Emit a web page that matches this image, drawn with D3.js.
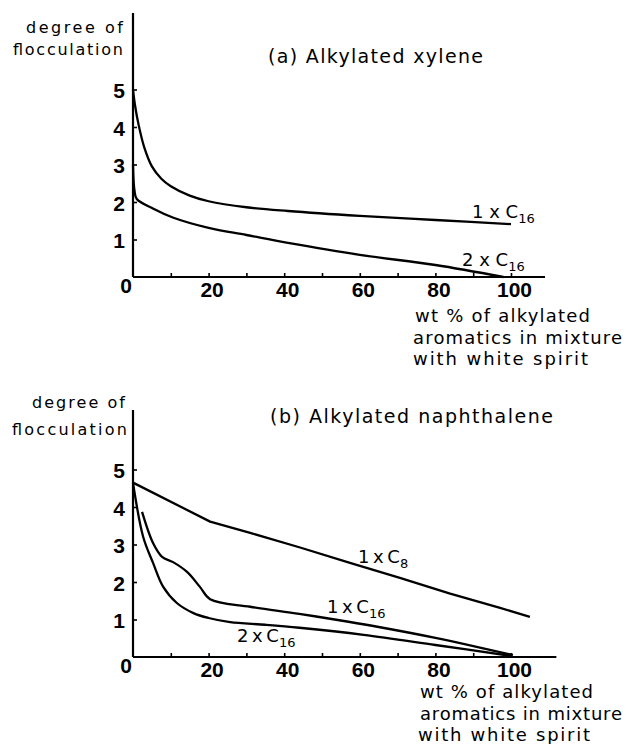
<!DOCTYPE html>
<html><head><meta charset="utf-8">
<script src="https://cdn.jsdelivr.net/npm/d3@7"></script>
<style>body{margin:0;background:#fff} svg{display:block}</style>
</head><body><svg id="c" width="626" height="744"></svg>
<script>
// ---- data ----
const xTickValues = [10,20,30,40,50,60,70,80,90,100];
const xTickLabels = [20,40,60,80,100];
const yTickValues = [1,2,3,4,5];

const titleA = "(a) Alkylated xylene";
const titleB = "(b) Alkylated naphthalene";
const yLabelLines = ["degree of","flocculation"];
const xLabelLines = ["wt % of alkylated","aromatics in mixture","with white spirit"];

const xylene1xC16 = [[0,5.0],[0.5,4.6],[1.5,4.05],[3,3.45],[5,2.95],[7.5,2.62],[10,2.42],[15,2.17],[20,2.02],[30,1.86],[41,1.76],[60,1.63],[80,1.52],[100,1.41]];
const xylene2xC16 = [[0,3.0],[0.4,2.3],[1,2.08],[5.4,1.82],[10.7,1.58],[20,1.31],[30,1.12],[41,0.91],[60,0.59],[80,0.32],[98,0.0]];
const naph1xC8  = [[0,4.65],[20.4,3.61],[31,3.31],[44.2,2.92],[57.4,2.51],[70.6,2.11],[83.9,1.69],[97.1,1.31],[105,1.07]];
const naph1xC16 = [[2.4,3.87],[5.3,3.04],[7.7,2.67],[10.6,2.53],[14.3,2.27],[17.7,1.87],[20.4,1.54],[31,1.34],[44,1.15],[57,0.94],[65,0.8],[80,0.51],[100.5,0.05]];
const naph2xC16 = [[0,4.65],[2.7,3.2],[5.3,2.51],[8,1.87],[11.6,1.44],[16,1.17],[20,1.04],[25.7,0.93],[35,0.86],[44,0.78],[61,0.59],[80,0.32],[100,0.03]];

// ---- drawing ----
const svg = d3.select("#c");
const textFont = "'DejaVu Sans', 'Noto Sans', sans-serif";
const numFont = "'Liberation Sans', Arial, sans-serif";

const x = d3.scaleLinear().domain([0,100]).range([133,511]);

function numStyle(sel){
  sel.style("font-family",numFont).style("font-size","21px").style("font-weight","bold").attr("fill","#000");
}

function panel(cfg){
  const y = d3.scaleLinear().domain([0,5]).range([cfg.y0, cfg.y5]);
  const g = svg.append("g");

  // x axis
  const ax = g.append("g").attr("transform",`translate(0,${cfg.y0})`)
    .call(d3.axisBottom(x).tickValues(xTickValues).tickSizeInner(-4).tickSizeOuter(0)
      .tickFormat(d => xTickLabels.includes(d) ? d3.format("d")(d) : ""));
  ax.select(".domain").remove();
  ax.selectAll(".tick line").attr("stroke","#000").attr("stroke-width",1.6);
  ax.selectAll(".tick text").attr("y",20).attr("dy",0).attr("dx",3).call(numStyle);
  g.append("line").attr("x1",x(0)).attr("x2",x(cfg.xEnd)).attr("y1",cfg.y0).attr("y2",cfg.y0)
    .attr("stroke","#000").attr("stroke-width",2.2);

  // y axis
  const ay = g.append("g").attr("transform",`translate(${x(0)},0)`)
    .call(d3.axisLeft(y).tickValues(yTickValues).tickSizeInner(-4).tickSizeOuter(0).tickPadding(8)
      .tickFormat(d3.format("d")));
  ay.select(".domain").remove();
  ay.selectAll(".tick line").attr("stroke","#000").attr("stroke-width",1.6);
  ay.selectAll(".tick text").attr("dy","0.4em").call(numStyle);
  g.append("line").attr("x1",x(0)).attr("x2",x(0)).attr("y1",cfg.yTop).attr("y2",cfg.y0)
    .attr("stroke","#000").attr("stroke-width",2.2);
  g.append("text").attr("x",x(0)-1).attr("y",cfg.y0+16).attr("text-anchor","end").call(numStyle).text("0");

  // curves
  cfg.series.forEach(s => {
    const line = d3.line().x(d=>x(d[0])).y(d=>y(d[1])).curve(s.curve || d3.curveCatmullRom.alpha(0.5));
    g.append("path").datum(s.data).attr("d",line).attr("fill","none")
      .attr("stroke","#000").attr("stroke-width",2.3).attr("stroke-linejoin","round");
    const t = g.append("text").attr("x",s.lx).attr("y",s.ly)
      .style("font-family",textFont).style("font-size","18px");
    t.append("tspan").text(s.label);
    t.append("tspan").attr("dy",5).style("font-size","13px").text(s.sub);
  });

  // title
  g.append("text").attr("x",cfg.title.x).attr("y",cfg.title.y)
    .attr("textLength",cfg.title.w).attr("lengthAdjust","spacing")
    .style("font-family",textFont).style("font-size","19px").text(cfg.title.text);

  // y label
  yLabelLines.forEach((s,i)=>{
    const p = cfg.ylab[i];
    g.append("text").attr("x",p[0]).attr("y",p[1]).attr("textLength",p[2]).attr("lengthAdjust","spacing")
      .style("font-family",textFont).style("font-size","16px").text(s);
  });
  // x label
  xLabelLines.forEach((s,i)=>{
    const p = cfg.xlab[i];
    g.append("text").attr("x",p[0]).attr("y",p[1]).attr("textLength",p[2]).attr("lengthAdjust","spacing")
      .style("font-family",textFont).style("font-size","18px").text(s);
  });
}

panel({
  y0:277, y5:89.5, yTop:13, xEnd:109,
  title:{text:titleA, x:268, y:63, w:215},
  ylab:[[26,33,97],[13,55,110]],
  xlab:[[415,322,175],[413,344,209],[413,365,175]],
  series:[
    {data:xylene1xC16, label:"1 x C", sub:"16", lx:472, ly:218},
    {data:xylene2xC16, label:"2 x C", sub:"16", lx:462, ly:266}
  ]
});

panel({
  y0:657, y5:469.5, yTop:410, xEnd:112,
  title:{text:titleB, x:270, y:423, w:283},
  ylab:[[32,408,93],[12,435,115]],
  xlab:[[420,698,173],[420,720,202],[418,741,172]],
  series:[
    {data:naph1xC8, label:"1\u2009x\u2009C", sub:"8", lx:358, ly:563, curve:d3.curveLinear},
    {data:naph1xC16, label:"1\u2009x\u2009C", sub:"16", lx:327, ly:613},
    {data:naph2xC16, label:"2\u2009x\u2009C", sub:"16", lx:237, ly:642}
  ]
});
</script>
</body></html>
